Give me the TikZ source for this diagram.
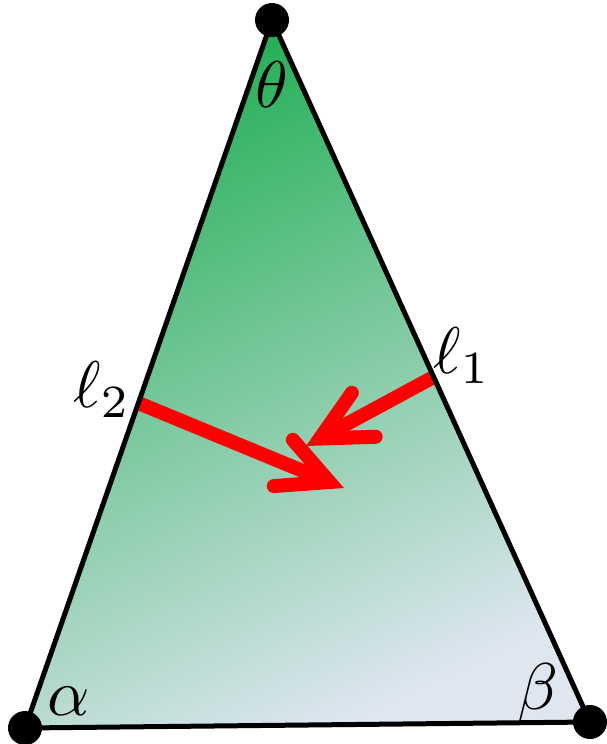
\documentclass[tikz,border=0pt]{standalone}
\usetikzlibrary{arrows.meta, calc}

\definecolor{topgreen}{RGB}{35,175,85}
\definecolor{midgreen}{RGB}{150,205,180}
\definecolor{paleblue}{RGB}{222,230,240}

\begin{document}
\begin{tikzpicture}[
    x=0.5pt, y=-0.5pt,
    vertex/.style={circle, fill=black, inner sep=0pt, minimum size=17pt},
    edge/.style={draw=black, line width=2.5pt, line join=round},
    flow/.style={draw=red, line width=7pt,
                 -{Straight Barb[length=25pt, width=25pt, line cap=round, line join=miter]}},
    lbl/.style={scale=3.3, inner sep=0pt}
]
\useasboundingbox (0,0) rectangle (606,744);
% Corners
\coordinate (top) at (272,20);
\coordinate (left) at (25,728);
\coordinate (right) at (590,722);
% Filled triangle
\shade[top color=topgreen, middle color=midgreen, bottom color=paleblue,
       shading angle=25] (top) -- (left) -- (right) -- cycle;
% Points on the sides
\coordinate (l2) at ($(top)!0.541!(left)$);
\coordinate (l1) at ($(top)!0.5085!(right)$);
\coordinate (h2) at (344,488);
\coordinate (h1) at (306,446);
\draw[flow] (l2) -- (h2);
\draw[flow] (l1) -- (h1);
% Sides
\draw[edge] (top) -- (left) -- (right) -- cycle;
\node[vertex] (vt) at (top) {};
\node[vertex] (vl) at (left) {};
\node[vertex] (vr) at (right) {};
% Labels
\node[lbl] (theta) at (272,85) {$\theta$};
\node[lbl] (alpha) at (69,701) {$\alpha$};
\node[lbl] (beta) at (538,693) {$\beta$};
\node[lbl] (ell2) at (102,390) {$\ell_2$};
\node[lbl] (ell1) at (462,356) {$\ell_1$};
\end{tikzpicture}
\end{document}
